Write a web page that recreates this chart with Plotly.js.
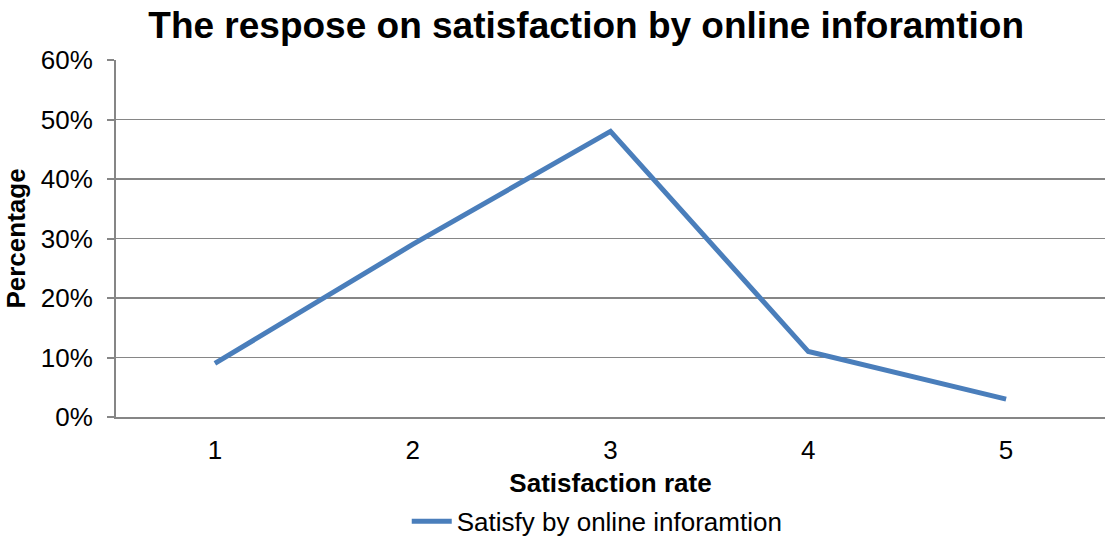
<!DOCTYPE html>
<html>
<head>
<meta charset="utf-8">
<script src="https://cdn.plot.ly/plotly-3.0.1.min.js"></script>
<style>html,body{margin:0;padding:0;background:#fff;}#chart{width:1106px;height:538px;}</style>
</head>
<body>
<div id="chart"></div>
<script>
const categories = [1, 2, 3, 4, 5];
const satisfyValues = [0.09, 0.29, 0.48, 0.11, 0.03];
const yTickValues = [0, 0.1, 0.2, 0.3, 0.4, 0.5, 0.6];
const yTickLabels = ['0%', '10%', '20%', '30%', '40%', '50%', '60%'];
const seriesName = 'Satisfy by online inforamtion';

const font = 'Liberation Sans, Arial, sans-serif';

const data = [{
  x: categories,
  y: satisfyValues,
  type: 'scatter',
  mode: 'lines',
  name: seriesName,
  line: {color: '#4a7ebb', width: 5}
}];

const layout = {
  width: 1106, height: 538,
  margin: {l: 116, r: 1, t: 60, b: 121},
  paper_bgcolor: '#fff', plot_bgcolor: '#fff',
  font: {family: font, size: 26, color: '#000'},
  title: {text: '<b>The respose on satisfaction by online inforamtion</b>', font: {family: font, size: 37, color: '#000'}, x: 0.53, xref: 'container', xanchor: 'center', y: 0.953, yref: 'container', yanchor: 'middle'},
  xaxis: {
    range: [0.5, 5.5], tickvals: categories, ticktext: categories.map(String),
    showgrid: false, zeroline: false, showline: true, linecolor: '#868686', linewidth: 2,
    ticks: '', ticklen: 0, ticklabelstandoff: 9, tickfont: {family: font, size: 26, color: '#000'},
    title: {text: '<b>Satisfaction rate</b>', font: {family: font, size: 26, color: '#000'}, standoff: 14},
    automargin: false,
    fixedrange: true
  },
  yaxis: {
    range: [0, 0.6], tickvals: yTickValues, ticktext: yTickLabels,
    showgrid: true, gridcolor: '#868686', gridwidth: 1.5, zeroline: false,
    showline: true, linecolor: '#868686', linewidth: 2,
    ticks: 'outside', ticklen: 7, tickcolor: '#868686', tickwidth: 2, ticklabelstandoff: 9,
    tickfont: {family: font, size: 26, color: '#000'},
    title: {text: '<b>Percentage</b>', font: {family: font, size: 26, color: '#000'}, standoff: 8},
    automargin: true,
    fixedrange: true
  },
  showlegend: true,
  legend: {orientation: 'h', x: 0.54, xref: 'container', xanchor: 'center', y: 0.031, yref: 'container', yanchor: 'middle', font: {family: font, size: 26, color: '#000'}, itemwidth: 40, tracegroupgap: 0}
};

Plotly.newPlot('chart', data, layout, {displayModeBar: false, staticPlot: true});
</script>
</body>
</html>
